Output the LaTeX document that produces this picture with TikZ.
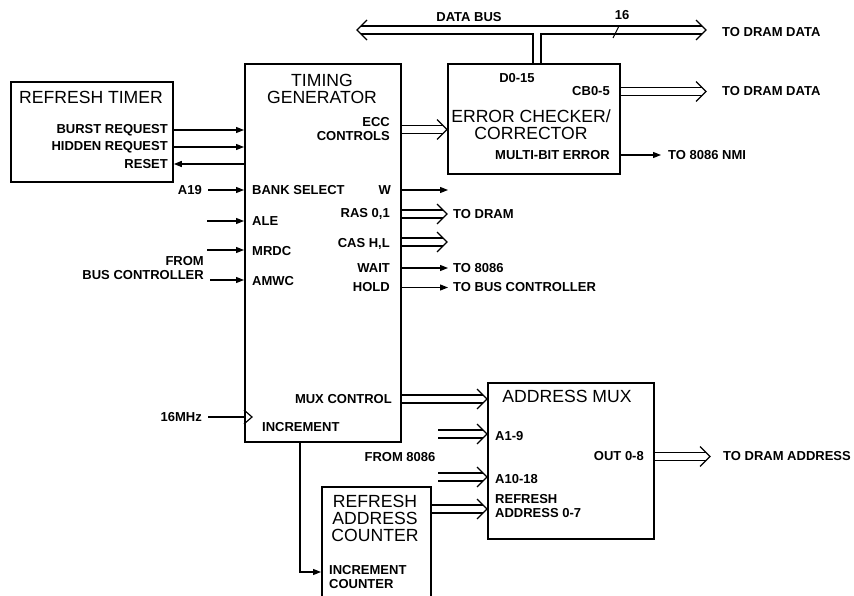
\documentclass[tikz,border=0pt]{standalone}
\usepackage{fontspec}
\setmainfont{Liberation Sans}
\usetikzlibrary{arrows.meta,positioning}
\newcommand{\busto}[2]{%
  \draw[wire] ([yshift=4pt]#1) -- ([shift={(-4pt,4pt)}]#2);
  \draw[wire] ([yshift=-4pt]#1) -- ([shift={(-4pt,-4pt)}]#2);
  \draw[wire] ([shift={(-10pt,10pt)}]#2) -- (#2) -- ([shift={(-10pt,-10pt)}]#2);
}

\begin{document}
\begin{tikzpicture}[x=1pt,y=-1pt,
    blk/.style={draw, line width=1.8pt, anchor=north west, inner sep=0pt},
    ttl/.style={font=\fontsize{17.6}{17}\selectfont, align=center, inner sep=0pt},
    lbl/.style={font=\fontsize{13}{14}\selectfont\bfseries, inner sep=0pt},
    wire/.style={line width=1.3pt},
    sig/.style={line width=1.2pt, -{Triangle[length=8pt,width=6pt]}},
  ]
  \useasboundingbox (0,0) rectangle (854,596);

  % blocks
  \node[blk, minimum width=162pt, minimum height=100pt] (timer) at (10,81) {};
  \node[blk, minimum width=156pt, minimum height=378pt] (tgen) at (244,63) {};
  \node[blk, minimum width=172pt, minimum height=110pt] (ecc) at (447,63) {};
  \node[blk, minimum width=166pt, minimum height=156pt] (amux) at (487,382) {};
  \node[blk, minimum width=109pt, minimum height=115pt] (rcnt) at (321,486) {};

  % titles
  \node[ttl] (timerttl) at (91,97) {REFRESH TIMER};
  \node[ttl] (tgenttl) at (322,89) {TIMING\\GENERATOR};
  \node[ttl] (eccttl) at (531,125) {ERROR CHECKER/\\CORRECTOR};
  \node[ttl] (amuxttl) at (567,396) {ADDRESS MUX};
  \node[ttl] (rcntttl) at (375,518) {REFRESH\\ADDRESS\\COUNTER};

  % refresh timer pins
  \node[lbl, anchor=east] (burst) at (168,130) {BURST REQUEST};
  \node[lbl, anchor=east] (hidden) at (168,147) {HIDDEN REQUEST};
  \node[lbl, anchor=east] (reset) at (168,164) {RESET};

  % timing generator pins
  \node[lbl, anchor=east, align=right] (eccctl) at (390,129.5) {ECC\\CONTROLS};
  \node[lbl, anchor=west] (bank) at (252,190) {BANK SELECT};
  \node[lbl, anchor=west] (ale) at (252,221) {ALE};
  \node[lbl, anchor=west] (mrdc) at (252,251) {MRDC};
  \node[lbl, anchor=west] (amwc) at (252,281) {AMWC};
  \node[lbl, anchor=east] (w) at (391,190) {W};
  \node[lbl, anchor=east] (ras) at (390,214) {RAS 0,1};
  \node[lbl, anchor=east] (cas) at (390,244) {CAS H,L};
  \node[lbl, anchor=east] (wait) at (390,268) {WAIT};
  \node[lbl, anchor=east] (hold) at (390,287.5) {HOLD};
  \node[lbl, anchor=east] (muxctl) at (392,399) {MUX CONTROL};
  \node[lbl, anchor=west] (incr) at (262,427) {INCREMENT};

  % error checker pins
  \node[lbl] (d015) at (517,78) {D0-15};
  \node[lbl, anchor=east] (cb05) at (610,91.5) {CB0-5};
  \node[lbl, anchor=east] (mbe) at (610,155) {MULTI-BIT ERROR};

  % address mux pins
  \node[lbl, anchor=west] (a19m) at (495,436) {A1-9};
  \node[lbl, anchor=west] (a1018) at (495,479) {A10-18};
  \node[lbl, anchor=west, align=left] (refadr) at (495,506) {REFRESH\\ADDRESS 0-7};
  \node[lbl, anchor=east] (out08) at (644,456.5) {OUT 0-8};

  % counter pin
  \node[lbl, anchor=north west, align=left] (inccnt) at (329,565) {INCREMENT\\COUNTER};

  % outside labels
  \node[lbl, anchor=east] (a19) at (202,190) {A19};
  \node[lbl, anchor=east, align=right] (frombc) at (204,268) {FROM\\BUS CONTROLLER};
  \node[lbl, anchor=east] (clk) at (202,417) {16MHz};
  \node[lbl, anchor=west] (todram) at (453,214) {TO DRAM};
  \node[lbl, anchor=west] (to8086) at (453,268) {TO 8086};
  \node[lbl, anchor=west] (tobc) at (453,287.5) {TO BUS CONTROLLER};
  \node[lbl] (databus) at (469,17) {DATA BUS};
  \node[lbl] (width16) at (622,15) {16};
  \node[lbl, anchor=west] (todd1) at (722,32) {TO DRAM DATA};
  \node[lbl, anchor=west] (todd2) at (722,91.5) {TO DRAM DATA};
  \node[lbl, anchor=west] (nmi) at (668,155) {TO 8086 NMI};
  \node[lbl] (from86) at (400,457) {FROM 8086};
  \node[lbl, anchor=west] (todra) at (723,456.5) {TO DRAM ADDRESS};

  \coordinate (alein) at (207,221);
  \coordinate (mrdcin) at (207,250);
  \coordinate (amwcin) at (210,280);
  \coordinate (wout) at (448,190);
  \coordinate (casend) at (447,242);
  \coordinate (a1in) at (438,434);
  \coordinate (a10in) at (438,477);
  \coordinate (busl) at (357,30);
  \coordinate (busr) at (706,30);
  \coordinate (tap) at (537,30);
  \coordinate (slash) at (616,32);
  \coordinate (rasend) at ([xshift=-6pt]todram.west);
  \coordinate (cbend) at ([xshift=-16pt]todd2.west);
  \coordinate (outend) at ([xshift=-13pt]todra.west);
  \coordinate (refrow) at ([yshift=-3pt]refadr.west);

  % refresh timer <-> timing generator
  \draw[sig] (burst.east -| timer.east) -- (burst.east -| tgen.west);
  \draw[sig] (hidden.east -| timer.east) -- (hidden.east -| tgen.west);
  \draw[sig] (reset.east -| tgen.west) -- (reset.east -| timer.east);

  % inputs
  \draw[sig] ([xshift=6pt]a19.east) -- (a19.east -| tgen.west);
  \draw[sig] (alein) -- (alein -| tgen.west);
  \draw[sig] (mrdcin) -- (mrdcin -| tgen.west);
  \draw[sig] (amwcin) -- (amwcin -| tgen.west);
  \draw[line width=1.2pt] ([xshift=6pt]clk.east) -- (clk.east -| tgen.west);
  \draw[line width=1.2pt] (clk.east -| tgen.west) ++(0,-7) -- ++(8,7) -- ++(-8,7);

  % outputs
  \draw[sig] (w.east -| tgen.east) -- (wout);
  \busto{ras.east -| tgen.east}{rasend}
  \busto{casend -| tgen.east}{casend}
  \draw[sig] (wait.east -| tgen.east) -- ([xshift=-5pt]to8086.west);
  \draw[sig] (hold.east -| tgen.east) -- ([xshift=-5pt]tobc.west);
  \busto{eccctl.east -| tgen.east}{eccctl.east -| ecc.west}
  \busto{muxctl.east -| tgen.east}{muxctl.east -| amux.west}
  \draw[sig] ([xshift=56pt]tgen.south west) |- ([yshift=-86pt]rcnt.north west);

  % data bus
  \draw[wire] ([shift={(4pt,4pt)}]busl) -- ([shift={(-4pt,4pt)}]busr);
  \draw[wire] ([shift={(4pt,-4pt)}]busl) -- ([shift={(-4pt,-4pt)}]tap) -- ([xshift=-4pt]tap |- ecc.north);
  \draw[wire] ([shift={(-4pt,-4pt)}]busr) -- ([shift={(4pt,-4pt)}]tap) -- ([xshift=4pt]tap |- ecc.north);
  \draw[wire] ([shift={(10pt,10pt)}]busl) -- (busl) -- ([shift={(10pt,-10pt)}]busl);
  \draw[wire] ([shift={(-10pt,10pt)}]busr) -- (busr) -- ([shift={(-10pt,-10pt)}]busr);
  \draw[line width=1pt] ([shift={(-3pt,-6pt)}]slash) -- ([shift={(3pt,6pt)}]slash);

  % error checker outputs
  \busto{cb05.east -| ecc.east}{cbend}
  \draw[sig] (mbe.east -| ecc.east) -- ([xshift=-7pt]nmi.west);

  % address mux
  \busto{a1in}{a1in -| amux.west}
  \busto{a10in}{a10in -| amux.west}
  \busto{refrow -| rcnt.east}{refrow -| amux.west}
  \busto{out08.east -| amux.east}{outend}
\end{tikzpicture}
\end{document}
